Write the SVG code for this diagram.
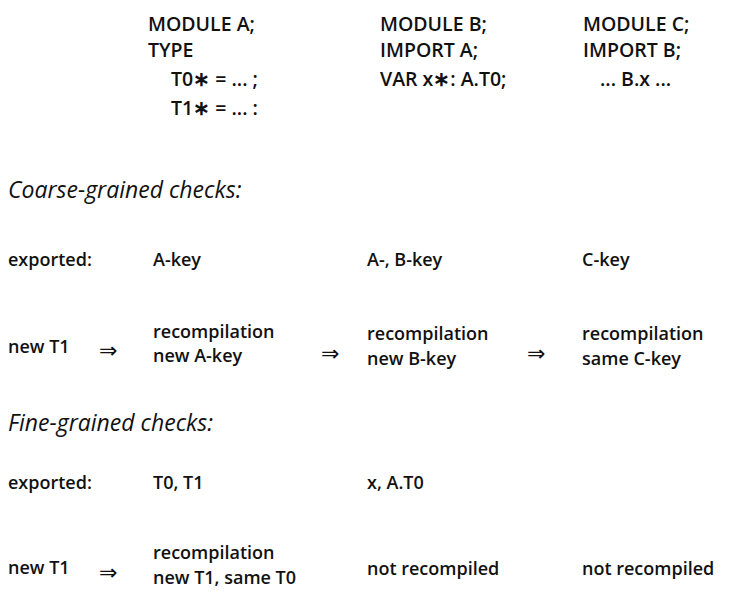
<svg xmlns="http://www.w3.org/2000/svg" width="730" height="610" viewBox="0 0 730 610">
<style>
text{font-family:"Open Sans","Noto Sans",sans-serif;font-size:18px;font-weight:600;fill:#111}
.m{font-size:19.5px}
.h{font-style:italic;font-weight:400;font-size:23px}
.ar{font-family:"DejaVu Sans",sans-serif;font-size:22px;font-weight:400}
</style>
<rect width="730" height="610" fill="#fff"/>
<g id="moduleA">
<text class="m" x="148" y="31">MODULE A;</text>
<text class="m" x="148" y="57">TYPE</text>
<text class="m" x="171" y="86">T0∗ = ... ;</text>
<text class="m" x="171" y="115">T1∗ = ... :</text>
</g>
<g id="moduleB">
<text class="m" x="380" y="31">MODULE B;</text>
<text class="m" x="380" y="57">IMPORT A;</text>
<text class="m" x="380" y="86">VAR x∗: A.T0;</text>
</g>
<g id="moduleC">
<text class="m" x="583" y="31">MODULE C;</text>
<text class="m" x="583" y="57">IMPORT B;</text>
<text class="m" x="600" y="86">... B.x ...</text>
</g>
<g id="coarse">
<text class="h" x="8" y="198">Coarse-grained checks:</text>
<text x="8" y="266">exported:</text>
<text x="153" y="266">A-key</text>
<text x="367" y="266">A-, B-key</text>
<text x="582" y="266">C-key</text>
<text x="8" y="353">new T1</text>
<text x="153" y="338">recompilation</text>
<text x="153" y="362">new A-key</text>
<text x="367" y="340">recompilation</text>
<text x="367" y="365">new B-key</text>
<text x="582" y="340">recompilation</text>
<text x="582" y="365">same C-key</text>
</g>
<g id="fine">
<text class="h" x="8" y="431">Fine-grained checks:</text>
<text x="8" y="489">exported:</text>
<text x="153" y="489">T0, T1</text>
<text x="367" y="489">x, A.T0</text>
<text x="8" y="574">new T1</text>
<text x="153" y="559">recompilation</text>
<text x="153" y="584">new T1, same T0</text>
<text x="367" y="575">not recompiled</text>
<text x="582" y="575">not recompiled</text>
</g>
<g id="connectors">
<text class="ar" x="99" y="358">⇒</text>
<text class="ar" x="321" y="361">⇒</text>
<text class="ar" x="527" y="361">⇒</text>
<text class="ar" x="99" y="580">⇒</text>
</g>
</svg>
